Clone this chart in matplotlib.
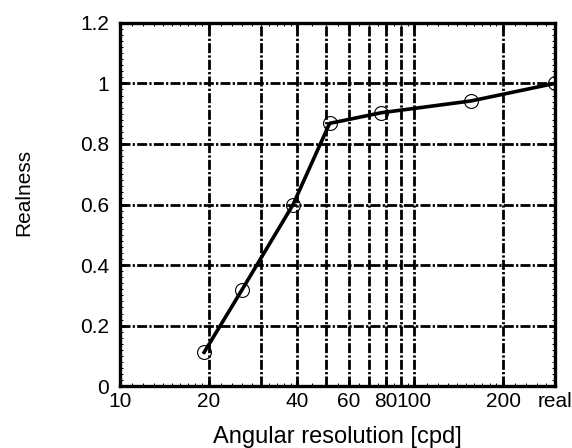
import matplotlib
matplotlib.use("Agg")
import matplotlib.pyplot as plt
from matplotlib.ticker import FixedLocator, NullFormatter

plt.rcParams['font.family'] = ['Liberation Sans', 'DejaVu Sans']

# data
resolution = [19.3, 25.9, 38.7, 51.5, 77.0, 155.6, 300.0]
realness = [0.112, 0.317, 0.600, 0.868, 0.903, 0.942, 1.000]
xtick_vals = [10, 20, 40, 60, 80, 100, 200, 300]
xtick_labels = ['10', '20', '40', '60', '80', '100', '200', 'real']
xgrid_vals = [20, 30, 40, 50, 60, 70, 80, 90, 100, 200]
xminor_vals = ([11, 12, 13, 14, 15, 16, 17, 18, 19]
               + [22, 24, 26, 28, 30, 32, 34, 36, 38]
               + [45, 50, 55, 65, 70, 75, 85, 90, 95]
               + [110, 120, 130, 140, 150, 160, 170, 180, 190]
               + [220, 240, 260, 280])
ytick_vals = [0, 0.2, 0.4, 0.6, 0.8, 1.0, 1.2]
ytick_labels = ['0', '0.2', '0.4', '0.6', '0.8', '1', '1.2']
ygrid_vals = [0.2, 0.4, 0.6, 0.8, 1.0]
yminor_vals = [i * 0.02 for i in range(61) if i % 10 != 0]

fig = plt.figure(figsize=(5.72, 4.48), dpi=100)
ax = fig.add_axes([0.21, 0.138, 0.76, 0.811])

ax.set_xscale('log')
ax.set_xlim(10, 300)
ax.set_ylim(0, 1.2)

grid_style = dict(color='black', lw=2.0, linestyle=(0, (3.6, 0.8, 0.8, 0.8)), zorder=1)
for gx in xgrid_vals:
    ax.axvline(gx, **grid_style)
for gy in ygrid_vals:
    ax.axhline(gy, **grid_style)

ax.plot(resolution, realness, color='black', lw=2.6, marker='o', ms=10,
        mfc='none', mec='black', mew=0.8, zorder=3)

ax.xaxis.set_major_locator(FixedLocator(xtick_vals))
ax.set_xticklabels(xtick_labels)
ax.xaxis.set_minor_locator(FixedLocator(xminor_vals))
ax.xaxis.set_minor_formatter(NullFormatter())
ax.set_yticks(ytick_vals)
ax.set_yticklabels(ytick_labels)
ax.yaxis.set_minor_locator(FixedLocator(yminor_vals))
ax.yaxis.set_minor_formatter(NullFormatter())

ax.tick_params(which='major', direction='in', length=4, width=2,
               top=True, right=True, labelsize=15, colors='black')
ax.tick_params(axis='x', which='major', pad=4)
ax.tick_params(axis='y', which='major', pad=8)
ax.tick_params(which='minor', direction='in', length=2, width=0.7,
               top=True, bottom=True, left=True, right=True)

for sp in ax.spines.values():
    sp.set_linewidth(2.4)
    sp.set_color('black')
    sp.set_zorder(4)

ax.set_xlabel('Angular resolution [cpd]', fontsize=17, labelpad=11)
ax.set_ylabel('Realness', fontsize=15)
ax.yaxis.set_label_coords(-0.2, 0.534)

fig.savefig('out.png', dpi=100)
